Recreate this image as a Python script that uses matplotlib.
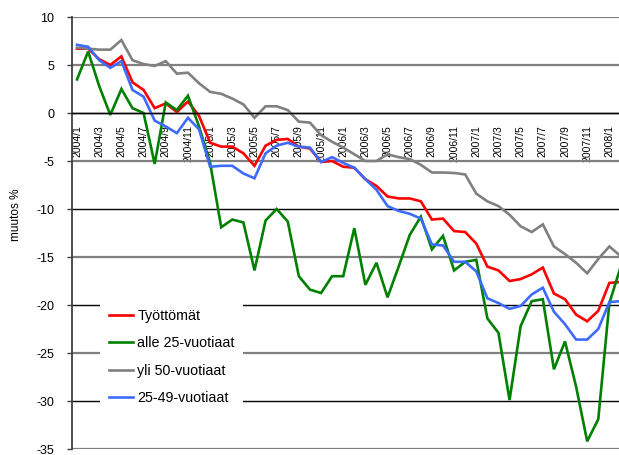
import matplotlib
matplotlib.use("Agg")
import matplotlib.pyplot as plt

plt.rcParams['font.family'] = ['Liberation Sans', 'DejaVu Sans']
plt.rcParams['axes.unicode_minus'] = False

# months 2004/1 .. 2008/2
months = [f"{y}/{m}" for y in range(2004, 2009) for m in range(1, 13)][:50]

tyottomat = [6.7, 6.7, 5.6, 5.0, 5.9, 3.2, 2.4, 0.5, 1.0, 0.1,
             1.2, -0.3, -3.1, -3.5, -3.5, -4.2, -5.5, -3.4, -2.8, -2.7,
             -3.5, -3.7, -5.1, -5.0, -5.6, -5.7, -6.9, -7.6, -8.7, -8.9,
             -8.9, -9.2, -11.1, -11.0, -12.3, -12.4, -13.6, -16.0, -16.4, -17.5,
             -17.3, -16.8, -16.1, -18.8, -19.4, -21.0, -21.7, -20.6, -17.7, -17.6]

alle25 = [3.5, 6.4, 2.8, -0.2, 2.5, 0.5, 0.0, -5.3, 1.1, 0.3,
          1.8, -1.4, -5.2, -11.9, -11.1, -11.4, -16.4, -11.2, -10.0, -11.3,
          -17.0, -18.4, -18.75, -17.0, -17.0, -12.0, -17.9, -15.6, -19.2, -16.0,
          -12.7, -10.8, -14.2, -12.8, -16.4, -15.5, -15.3, -21.4, -22.9, -29.9,
          -22.2, -19.6, -19.4, -26.7, -23.8, -28.5, -34.2, -31.9, -19.8, -16.1]

yli50 = [6.8, 6.7, 6.6, 6.6, 7.6, 5.5, 5.1, 4.9, 5.4, 4.1,
         4.2, 3.1, 2.2, 2.0, 1.5, 0.9, -0.5, 0.7, 0.7, 0.3,
         -0.9, -1.0, -2.3, -3.0, -3.6, -4.3, -5.0, -5.0, -4.3, -4.6,
         -4.8, -5.4, -6.2, -6.2, -6.25, -6.4, -8.4, -9.2, -9.7, -10.6,
         -11.8, -12.4, -11.6, -13.9, -14.7, -15.6, -16.7, -15.2, -13.9, -14.9]

v25_49 = [7.1, 6.9, 5.5, 4.7, 5.4, 2.4, 1.7, -0.8, -1.4, -2.1,
          -0.5, -1.7, -5.6, -5.5, -5.5, -6.3, -6.8, -4.2, -3.4, -3.1,
          -3.5, -3.6, -5.1, -4.6, -5.2, -5.7, -6.9, -8.0, -9.7, -10.2,
          -10.5, -11.0, -13.7, -13.8, -15.5, -15.5, -16.5, -19.3, -19.8, -20.4,
          -20.1, -18.9, -18.2, -20.7, -22.0, -23.6, -23.6, -22.5, -19.7, -19.6]

series = [
    ("Työttömät", tyottomat, "#ff0000"),
    ("alle 25-vuotiaat", alle25, "#008000"),
    ("yli 50-vuotiaat", yli50, "#808080"),
    ("25-49-vuotiaat", v25_49, "#3d6bff"),
]

W, H = 619, 455
fig = plt.figure(figsize=(W / 100, H / 100), dpi=100)
# plot area runs past the right edge of the picture, as in the original
ax = fig.add_axes([71.5 / W, 6 / H, (626 - 71.5) / W, 432 / H])

x = list(range(len(months)))
for name, vals, col in series:
    ax.plot(x, vals, color=col, lw=1.9, label=name, solid_joinstyle='miter')

# x axis sits on the zero line (set before the tick labels, it resets them)
ax.spines['bottom'].set_position(('data', 0))
ax.spines['bottom'].set_color('black')
ax.spines['bottom'].set_linewidth(1)
ax.spines['top'].set_visible(False)
ax.spines['right'].set_visible(False)
ax.spines['left'].set_color('#404040')
ax.spines['left'].set_linewidth(1.3)

ax.set_xlim(-0.5, len(months) - 0.5)
ax.set_ylim(-35, 10)
ax.set_yticks(range(-35, 11, 5))
ax.tick_params(axis='y', labelsize=9, length=3.5, width=1, color='#404040',
               pad=9)

ax.set_xticks(x[::2])
ax.set_xticklabels(months[::2], rotation=90, fontsize=7.5)
ax.tick_params(axis='x', length=0, pad=8.5)

ax.set_axisbelow(True)
ax.yaxis.grid(True)
for val, gl in zip(range(-35, 11, 5), ax.get_ygridlines()):
    if val in (0, -10, -20, -30):
        gl.set_color('black')
        gl.set_linewidth(1)
    else:
        gl.set_color('#808080')
        gl.set_linewidth(1.6)

fig.text(16 / W, 1 - 215 / H, "muutos %", rotation=90, fontsize=8.5,
         ha='center', va='center')

leg = ax.legend(loc='upper left', bbox_to_anchor=(100 / W, 1 - 300 / H),
                bbox_transform=fig.transFigure, borderaxespad=0,
                fontsize=10.3, frameon=True, fancybox=False,
                handlelength=1.7, handletextpad=0.3, labelspacing=0.95,
                borderpad=0.6)
leg.get_frame().set_facecolor('white')
leg.get_frame().set_edgecolor('none')
leg.get_frame().set_alpha(1)

fig.savefig("out.png", dpi=100)
